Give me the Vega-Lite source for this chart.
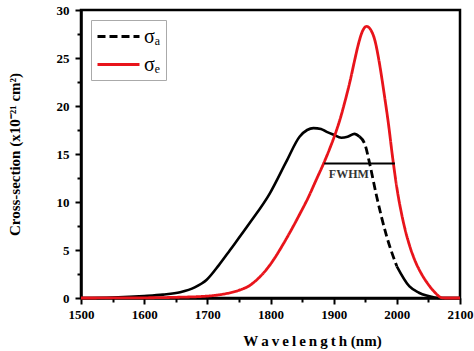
{
  "$schema": "https://vega.github.io/schema/vega-lite/v6.json",
  "autosize": "none",
  "width": 379,
  "height": 288,
  "padding": {"left": 81, "top": 10, "right": 14, "bottom": 53},
  "background": "white",
  "config": {
    "font": "Liberation Serif",
    "view": {"stroke": "black", "strokeWidth": 2.5},
    "axis": {
      "domainColor": "black", "domainWidth": 2.5,
      "tickColor": "black", "tickWidth": 2,
      "labelFont": "Liberation Serif", "labelFontWeight": "bold", "labelFontSize": 13, "labelColor": "black",
      "titleFont": "Liberation Serif", "titleFontWeight": "bold", "titleColor": "black",
      "grid": false
    },
    "legend": {
      "orient": "top-left", "offset": 10, "padding": 5,
      "strokeColor": "#aaaaaa", "strokeWidth": 1,
      "labelFont": "Liberation Serif", "labelFontSize": 20, "labelColor": "black",
      "symbolType": "M-1,0H3.2", "symbolSize": 400, "symbolStrokeWidth": 3,
      "rowPadding": 6, "labelOffset": 25
    }
  },
  "datasets": {
    "curves": [
      {"s": "σₑ", "seg": "e", "wl": 1500, "cs": 0},
      {"s": "σₑ", "seg": "e", "wl": 1600, "cs": 0.02},
      {"s": "σₑ", "seg": "e", "wl": 1650, "cs": 0.07},
      {"s": "σₑ", "seg": "e", "wl": 1700, "cs": 0.2},
      {"s": "σₑ", "seg": "e", "wl": 1725, "cs": 0.4},
      {"s": "σₑ", "seg": "e", "wl": 1750, "cs": 0.8},
      {"s": "σₑ", "seg": "e", "wl": 1767, "cs": 1.3},
      {"s": "σₑ", "seg": "e", "wl": 1780, "cs": 2.0},
      {"s": "σₑ", "seg": "e", "wl": 1794, "cs": 3.0},
      {"s": "σₑ", "seg": "e", "wl": 1807, "cs": 4.2},
      {"s": "σₑ", "seg": "e", "wl": 1820, "cs": 5.6},
      {"s": "σₑ", "seg": "e", "wl": 1833, "cs": 7.1},
      {"s": "σₑ", "seg": "e", "wl": 1846, "cs": 8.7},
      {"s": "σₑ", "seg": "e", "wl": 1860, "cs": 10.5},
      {"s": "σₑ", "seg": "e", "wl": 1873, "cs": 12.4},
      {"s": "σₑ", "seg": "e", "wl": 1884, "cs": 14.0},
      {"s": "σₑ", "seg": "e", "wl": 1894, "cs": 15.6},
      {"s": "σₑ", "seg": "e", "wl": 1902, "cs": 17.0},
      {"s": "σₑ", "seg": "e", "wl": 1910, "cs": 18.6},
      {"s": "σₑ", "seg": "e", "wl": 1918, "cs": 20.5},
      {"s": "σₑ", "seg": "e", "wl": 1926, "cs": 22.6},
      {"s": "σₑ", "seg": "e", "wl": 1933, "cs": 24.7},
      {"s": "σₑ", "seg": "e", "wl": 1939, "cs": 26.4},
      {"s": "σₑ", "seg": "e", "wl": 1945, "cs": 27.7},
      {"s": "σₑ", "seg": "e", "wl": 1952, "cs": 28.3},
      {"s": "σₑ", "seg": "e", "wl": 1959, "cs": 27.9},
      {"s": "σₑ", "seg": "e", "wl": 1965, "cs": 26.9},
      {"s": "σₑ", "seg": "e", "wl": 1971, "cs": 25.0},
      {"s": "σₑ", "seg": "e", "wl": 1976, "cs": 23.0},
      {"s": "σₑ", "seg": "e", "wl": 1981, "cs": 20.8},
      {"s": "σₑ", "seg": "e", "wl": 1986, "cs": 18.5},
      {"s": "σₑ", "seg": "e", "wl": 1994, "cs": 14.3},
      {"s": "σₑ", "seg": "e", "wl": 2000, "cs": 11.5},
      {"s": "σₑ", "seg": "e", "wl": 2010, "cs": 8.0},
      {"s": "σₑ", "seg": "e", "wl": 2020, "cs": 5.5},
      {"s": "σₑ", "seg": "e", "wl": 2030, "cs": 3.7},
      {"s": "σₑ", "seg": "e", "wl": 2040, "cs": 2.4},
      {"s": "σₑ", "seg": "e", "wl": 2050, "cs": 1.4},
      {"s": "σₑ", "seg": "e", "wl": 2060, "cs": 0.6},
      {"s": "σₑ", "seg": "e", "wl": 2071, "cs": 0.03},
      {"s": "σₑ", "seg": "e", "wl": 2078, "cs": 0},
      {"s": "σₑ", "seg": "e", "wl": 2100, "cs": 0},

      {"s": "σₐ", "seg": "A", "wl": 1500, "cs": 0},
      {"s": "σₐ", "seg": "A", "wl": 1550, "cs": 0.05},
      {"s": "σₐ", "seg": "A", "wl": 1600, "cs": 0.2},
      {"s": "σₐ", "seg": "A", "wl": 1630, "cs": 0.35},
      {"s": "σₐ", "seg": "A", "wl": 1657, "cs": 0.6},
      {"s": "σₐ", "seg": "A", "wl": 1680, "cs": 1.1},
      {"s": "σₐ", "seg": "A", "wl": 1699, "cs": 1.9},
      {"s": "σₐ", "seg": "A", "wl": 1718, "cs": 3.4},
      {"s": "σₐ", "seg": "A", "wl": 1736, "cs": 5.0},
      {"s": "σₐ", "seg": "A", "wl": 1767, "cs": 7.8},
      {"s": "σₐ", "seg": "A", "wl": 1799, "cs": 10.9},
      {"s": "σₐ", "seg": "A", "wl": 1825, "cs": 14.2},
      {"s": "σₐ", "seg": "A", "wl": 1846, "cs": 16.8},
      {"s": "σₐ", "seg": "A", "wl": 1858, "cs": 17.5},
      {"s": "σₐ", "seg": "A", "wl": 1868, "cs": 17.7},
      {"s": "σₐ", "seg": "A", "wl": 1880, "cs": 17.6},
      {"s": "σₐ", "seg": "A", "wl": 1889, "cs": 17.3},
      {"s": "σₐ", "seg": "A", "wl": 1900, "cs": 17.0},
      {"s": "σₐ", "seg": "A", "wl": 1912, "cs": 16.7},
      {"s": "σₐ", "seg": "A", "wl": 1922, "cs": 16.8},
      {"s": "σₐ", "seg": "A", "wl": 1933, "cs": 17.1},
      {"s": "σₐ", "seg": "A", "wl": 1941, "cs": 16.8},

      {"s": "σₐ", "seg": "D", "wl": 1941, "cs": 16.8},
      {"s": "σₐ", "seg": "D", "wl": 1950, "cs": 15.9},
      {"s": "σₐ", "seg": "D", "wl": 1957, "cs": 14.0},
      {"s": "σₐ", "seg": "D", "wl": 1968, "cs": 10.6},
      {"s": "σₐ", "seg": "D", "wl": 1984, "cs": 6.4},
      {"s": "σₐ", "seg": "D", "wl": 2000, "cs": 3.3},

      {"s": "σₐ", "seg": "B", "wl": 2000, "cs": 3.3},
      {"s": "σₐ", "seg": "B", "wl": 2020, "cs": 1.2},
      {"s": "σₐ", "seg": "B", "wl": 2035, "cs": 0.55},
      {"s": "σₐ", "seg": "B", "wl": 2047, "cs": 0.25},
      {"s": "σₐ", "seg": "B", "wl": 2060, "cs": 0.06},
      {"s": "σₐ", "seg": "B", "wl": 2070, "cs": 0},
      {"s": "σₐ", "seg": "B", "wl": 2100, "cs": 0}
    ],
    "fwhm": [
      {"wl": 1885, "cs": 14.0},
      {"wl": 1997, "cs": 14.0}
    ],
    "fwhmText": [
      {"wl": 1924, "cs": 12.9, "label": "FWHM"}
    ]
  },
  "encoding": {
    "x": {
      "field": "wl", "type": "quantitative",
      "scale": {"domain": [1500, 2100], "nice": false, "zero": false},
      "axis": {
        "title": "W\u2009a\u2009v\u2009e\u2009l\u2009e\u2009n\u2009g\u2009t\u2009h (nm)", "titleFontSize": 15, "titlePadding": 12, "titleX": 231,
        "values": [1500,1550,1600,1650,1700,1750,1800,1850,1900,1950,2000,2050,2100],
        "labelExpr": "datum.value % 100 === 0 ? format(datum.value, 'd') : ''",
        "labelFont": "Liberation Serif", "labelFontWeight": "bold",
        "tickSize": {"condition": {"test": "datum.value % 100 === 0", "value": 6}, "value": 4},
        "labelPadding": 4, "labelFlush": false, "labelOverlap": false
      }
    },
    "y": {
      "field": "cs", "type": "quantitative",
      "scale": {"domain": [0, 30], "nice": false},
      "axis": {
        "title": "Cross-section (x10⁻²¹ cm²)", "titleFontSize": 15, "titlePadding": 34,
        "values": [0,2.5,5,7.5,10,12.5,15,17.5,20,22.5,25,27.5,30],
        "labelExpr": "datum.value % 5 === 0 ? format(datum.value, 'd') : ''",
        "labelFont": "Liberation Serif", "labelFontWeight": "bold",
        "tickSize": {"condition": {"test": "datum.value % 5 === 0", "value": 6}, "value": 4},
        "labelPadding": 6, "labelFlush": false, "labelOverlap": false
      }
    }
  },
  "layer": [
    {
      "data": {"name": "curves"},
      "transform": [{"filter": "datum.seg === 'A' || datum.seg === 'B'"}],
      "mark": {"type": "line", "color": "black", "strokeWidth": 2.6, "interpolate": "monotone"},
      "encoding": {"detail": {"field": "seg"}}
    },
    {
      "data": {"name": "curves"},
      "transform": [{"filter": "datum.seg === 'D' || datum.seg === 'e'"}],
      "mark": {"type": "line", "strokeWidth": 2.8, "interpolate": "monotone"},
      "encoding": {
        "color": {"field": "s", "type": "nominal", "title": null,
          "scale": {"domain": ["σₐ", "σₑ"], "range": ["black", "#e8141b"]}},
        "strokeDash": {"field": "s", "type": "nominal", "title": null,
          "scale": {"domain": ["σₐ", "σₑ"], "range": [[8, 4], [1, 0]]}}
      }
    },
    {
      "data": {"name": "fwhm"},
      "mark": {"type": "line", "color": "black", "strokeWidth": 2},
      "encoding": {}
    },
    {
      "data": {"name": "fwhmText"},
      "mark": {"type": "text", "font": "Liberation Serif", "fontWeight": "bold", "fontSize": 12, "color": "#333333", "baseline": "middle", "align": "center"},
      "encoding": {"text": {"field": "label"}}
    }
  ]
}
